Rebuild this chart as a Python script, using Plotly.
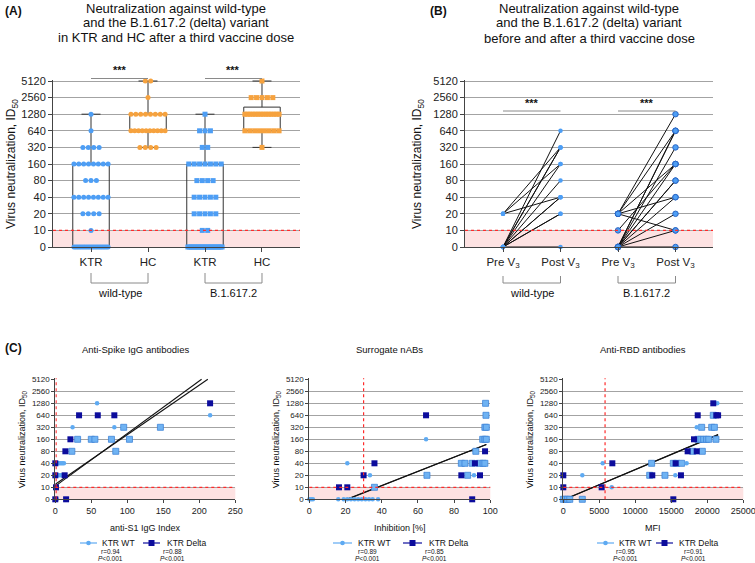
import math
import plotly.graph_objects as go

W, H = 755, 563
FONT = "Liberation Sans, Arial, Helvetica, sans-serif"

# ------------------------------------------------------------------ data
titer_levels = [0, 10, 20, 40, 80, 160, 320, 640, 1280, 2560, 5120]
titer_labels = ["0", "10", "20", "40", "80", "160", "320", "640", "1280", "2560", "5120"]

# Panel A: number of samples at each titer level (same order as titer_levels)
a_categories = ["KTR", "HC", "KTR", "HC"]
a_variants = ["wild-type", "B.1.617.2"]
a_wt_ktr_counts = [22, 1, 4, 8, 3, 8, 4, 1, 1, 0, 0]
a_wt_hc_counts = [0, 0, 0, 0, 0, 0, 4, 10, 8, 1, 2]
a_delta_ktr_counts = [22, 2, 5, 5, 4, 7, 2, 3, 1, 0, 0]
a_delta_hc_counts = [0, 0, 0, 0, 0, 0, 1, 8, 14, 5, 1]
a_box_q1 = [0, 640, 0, 640]
a_box_median = [0, 640, 0, 1280]
a_box_q3 = [160, 1280, 160, 1720]
a_box_min = [0, 320, 0, 320]
a_box_max = [1280, 5120, 1280, 5120]

# Panel B: paired titers before / after the third dose
b_categories = ["Pre V<sub>3</sub>", "Post V<sub>3</sub>", "Pre V<sub>3</sub>", "Post V<sub>3</sub>"]
b_variants = ["wild-type", "B.1.617.2"]
b_wt_pre = [20, 20, 20, 0, 0, 0, 0, 0, 0, 0, 0, 0, 0]
b_wt_post = [320, 160, 40, 640, 320, 320, 160, 80, 40, 40, 20, 20, 0]
b_delta_pre = [20, 20, 20, 20, 20, 10, 0, 0, 0, 0, 0, 0, 0, 0, 0, 0]
b_delta_post = [1280, 640, 160, 40, 10, 160, 640, 640, 320, 160, 80, 80, 40, 20, 10, 0]

# Panel C1: anti-S1 IgG index vs titer
c1_wt_x = [58, 215, 24, 82, 0, 2, 4, 6, 8, 10, 12, 0, 2, 4, 6, 8, 10, 0, 0, 2]
c1_wt_y = [1280, 640, 320, 320, 40, 40, 40, 40, 40, 40, 40, 20, 20, 20, 20, 20, 20, 10, 0, 0]
c1_both_x = [95, 146, 31, 50, 55, 78, 103, 23, 84]
c1_both_y = [320, 320, 160, 160, 160, 160, 160, 80, 80]
c1_delta_x = [215, 33, 59, 82, 21, 14, 13, 0, 0, 1, 15, 0]
c1_delta_y = [1280, 640, 640, 640, 160, 80, 20, 40, 20, 10, 0, 0]
c1_fit = {"wt": (1.1, 0.0438), "delta": (1.25, 0.0413)}
c1_cutoff = 1.1
c1_stats = ["r=0.94", "r=0.88"]

# Panel C2: surrogate neutralisation (inhibition %) vs titer
c2_wt_x = [21, 33.5, 64.5, 91, 0, 1, 2, 16, 19, 21, 23, 25, 27, 29, 31, 33, 35, 38]
c2_wt_y = [40, 20, 160, 20, 0, 0, 0, 0, 0, 0, 0, 0, 0, 0, 0, 0, 0, 0]
c2_both_x = [97.4, 97.6, 97, 97.8, 95.8, 97, 97.8, 92, 84, 86, 90, 94, 96, 97, 65, 87.5, 36]
c2_both_y = [1280, 640, 320, 320, 160, 160, 160, 80, 40, 40, 40, 40, 40, 40, 20, 20, 10]
c2_delta_x = [64.5, 97.1, 36, 91.5, 30, 84, 94.3, 16.4, 21, 90]
c2_delta_y = [640, 80, 40, 40, 20, 20, 20, 10, 10, 0]
c2_fit = {"wt": (-1.22, 0.0592), "delta": (-1.26, 0.0596)}
c2_cutoff = 30
c2_stats = ["r=0.89", "r=0.85"]

# Panel C3: anti-RBD MFI vs titer
c3_wt_x = [21390, 18530, 5470, 17130, 2640, 15560, 6720]
c3_wt_y = [1280, 320, 40, 40, 20, 20, 10]
c3_both_x = [20830, 19220, 20610, 20980, 18700, 19100, 19500, 19900, 20200, 21200, 17970, 19310,
             12270, 15280, 15740, 16430, 12000, 14120, 0, 300, 600, 900, 2640]
c3_both_y = [640, 320, 320, 320, 160, 160, 160, 160, 160, 160, 80, 80,
             40, 40, 40, 40, 20, 20, 0, 0, 0, 0, 0]
c3_delta_x = [20830, 18670, 21250, 21500, 18150, 17270, 18530, 6810, 15600, 0, 12360, 16340, 0, 5330, 15280]
c3_delta_y = [1280, 640, 640, 640, 160, 80, 80, 40, 40, 20, 20, 20, 10, 10, 0]
c3_fit = {"wt": (-0.06, 0.000254), "delta": (-0.05, 0.000252)}
c3_cutoff = 5800
c3_stats = ["r=0.95", "r=0.91"]

series_names = ["KTR WT", "KTR Delta"]

# ------------------------------------------------------------------ style
BLUE = "#4d9ef5"
ORANGE = "#f6a23e"
LIGHT = "#5eaaf2"
NAVY = "#0c0c9c"
GRID = "#a3a3a3"
AXC = "#444444"
PINK = "#fde2e2"


def lvl(v):
    return 0.0 if v == 0 else math.log2(v / 10.0) + 1.0


def X(px):
    return px / W


def Y(py):
    return 1 - py / H


fig = go.Figure()
shapes = []
annotations = []


def ann(text, x, y, size, xanchor="center", angle=0, color="#111", xref="paper"):
    annotations.append(dict(text=text, x=X(x) if xref == "paper" else x, y=Y(y), xref=xref, yref="paper",
                            xanchor=xanchor, yanchor="middle", showarrow=False, textangle=angle,
                            font=dict(size=size, color=color, family=FONT)))


def yaxis(top, bottom, size, anchor, ticklen=4):
    return dict(domain=[Y(bottom), Y(top)], range=[0, 10.08], tickvals=list(range(11)), ticktext=titer_labels,
                showgrid=True, gridcolor=GRID, gridwidth=1, zeroline=False, showline=True, linecolor=AXC,
                linewidth=1, ticks="outside", ticklen=ticklen, tickcolor=AXC, tickfont=dict(size=size, color="#222"),
                anchor=anchor, fixedrange=True, automargin=False)


def threshold_shapes(xa, ya):
    shapes.append(dict(type="rect", xref=xa + " domain", yref=ya, x0=0, x1=1, y0=0, y1=1,
                       fillcolor=PINK, line=dict(width=0), layer="below"))
    shapes.append(dict(type="line", xref=xa + " domain", yref=ya, x0=0, x1=1, y0=1, y1=1,
                       line=dict(color="#ff2a2a", width=1.2, dash="dot"), layer="above"))


# ------------------------------------------------------------------ panel A
A_TOP = 247 - 10.08 * 16.6


def swarm(counts, center, step=0.095, maxw=0.6):
    xs, ys = [], []
    for lv, n in zip(titer_levels, counts):
        if n == 0:
            continue
        s = step if n == 1 else min(step, maxw / (n - 1))
        for i in range(n):
            xs.append(center + (i - (n - 1) / 2) * s)
            ys.append(lvl(lv))
    return xs, ys


threshold_shapes("x", "y")
for i in range(4):
    fig.add_trace(go.Box(x=[i], q1=[lvl(a_box_q1[i])], median=[lvl(a_box_median[i])], q3=[lvl(a_box_q3[i])],
                         lowerfence=[lvl(a_box_min[i])], upperfence=[lvl(a_box_max[i])],
                         width=0.64, whiskerwidth=0.52, line=dict(color="#333", width=1),
                         fillcolor="rgba(0,0,0,0)", boxpoints=False, xaxis="x", yaxis="y", hoverinfo="skip"))

for counts, center, col, sym in [(a_wt_ktr_counts, 0, BLUE, "circle"), (a_wt_hc_counts, 1, ORANGE, "circle"),
                                 (a_delta_ktr_counts, 2, BLUE, "square"), (a_delta_hc_counts, 3, ORANGE, "square")]:
    xs, ys = swarm(counts, center)
    fig.add_trace(go.Scatter(x=xs, y=ys, mode="markers", xaxis="x", yaxis="y", cliponaxis=False,
                             marker=dict(color=col, size=5, symbol=sym, line=dict(width=0))))

# significance brackets A
for x0, x1 in [(0, 1), (2, 3)]:
    shapes.append(dict(type="line", xref="x", yref="paper", x0=x0, x1=x1, y0=Y(78.5), y1=Y(78.5),
                       line=dict(color="#8a8a8a", width=1)))
    ann("<b>***</b>", (x0 + x1) / 2, 70, 11, xref="x")
# group brackets A
for g, (x0, x1) in enumerate([(0, 1), (2, 3)]):
    for xx in (x0, x1):
        shapes.append(dict(type="line", xref="x", yref="paper", x0=xx, x1=xx, y0=Y(273), y1=Y(283),
                           line=dict(color="#8a8a8a", width=1)))
    shapes.append(dict(type="line", xref="x", yref="paper", x0=x0, x1=x1, y0=Y(283), y1=Y(283),
                       line=dict(color="#8a8a8a", width=1)))
    ann(a_variants[g], (x0 + x1) / 2, 293, 11, xref="x")

ann("<b>(A)</b>", 3, 11, 12, xanchor="left")
for t, yy in [("Neutralization against wild-type", 8), ("and the B.1.617.2 (delta) variant", 22.5),
              ("in KTR and HC after a third vaccine dose", 37)]:
    ann(t, 176, yy, 13)
ann("Virus neutralization, ID<sub>50</sub>", 12, 164, 12, angle=-90)

# ------------------------------------------------------------------ panel B
threshold_shapes("x2", "y2")
for pre, post, off, size, lw in [(b_wt_pre, b_wt_post, 0, 4.5, 0), (b_delta_pre, b_delta_post, 2, 5.5, 1)]:
    lx, ly = [], []
    for p, q in zip(pre, post):
        lx += [off, off + 1, None]
        ly += [lvl(p), lvl(q), None]
    fig.add_trace(go.Scatter(x=lx, y=ly, mode="lines", xaxis="x2", yaxis="y2", cliponaxis=False,
                             line=dict(color="#111", width=1)))
    mx = [off] * len(pre) + [off + 1] * len(post)
    my = [lvl(v) for v in pre] + [lvl(v) for v in post]
    fig.add_trace(go.Scatter(x=mx, y=my, mode="markers", xaxis="x2", yaxis="y2", cliponaxis=False,
                             marker=dict(color=BLUE, size=size, line=dict(color="#2a66c4", width=lw))))
for x0, x1 in [(0, 1), (2, 3)]:
    shapes.append(dict(type="line", xref="x2", yref="paper", x0=x0, x1=x1, y0=Y(111), y1=Y(111),
                       line=dict(color="#8a8a8a", width=1)))
    ann("<b>***</b>", (x0 + x1) / 2, 103, 11, xref="x2")
for g, (x0, x1) in enumerate([(0, 1), (2, 3)]):
    for xx in (x0, x1):
        shapes.append(dict(type="line", xref="x2", yref="paper", x0=xx, x1=xx, y0=Y(276), y1=Y(283),
                           line=dict(color="#8a8a8a", width=1)))
    shapes.append(dict(type="line", xref="x2", yref="paper", x0=x0, x1=x1, y0=Y(283), y1=Y(283),
                       line=dict(color="#8a8a8a", width=1)))
    ann(b_variants[g], (x0 + x1) / 2, 293, 11, xref="x2")
ann("<b>(B)</b>", 428, 11, 12, xanchor="left")
for t, yy in [("Neutralization against wild-type", 8), ("and the B.1.617.2 (delta) variant", 23),
              ("before and after a third vaccine dose", 38.5)]:
    ann(t, 589, yy, 13)
ann("Virus neutralization, ID<sub>50</sub>", 418, 164, 12, angle=-90)

# ------------------------------------------------------------------ panel C
C_panels = [
    dict(xa="x3", ya="y3", left=55.3, right=235.3, rng=[0, 250], dtick=50, title="Anti-Spike IgG antibodies",
         xtitle="anti-S1 IgG Index", wt=(c1_wt_x, c1_wt_y), both=(c1_both_x, c1_both_y),
         delta=(c1_delta_x, c1_delta_y), fit=c1_fit, cut=c1_cutoff, stats=c1_stats,
         leg=[(80, 97, 100, 110), (143, 160, 165, 172)]),
    dict(xa="x4", ya="y4", left=309.3, right=490.3, rng=[0, 100], dtick=20, title="Surrogate nABs",
         xtitle="Inhibition [%]", wt=(c2_wt_x, c2_wt_y), both=(c2_both_x, c2_both_y),
         delta=(c2_delta_x, c2_delta_y), fit=c2_fit, cut=c2_cutoff, stats=c2_stats,
         leg=[(333, 352, 356, 367), (403, 422, 427, 435)]),
    dict(xa="x5", ya="y5", left=563.3, right=743.3, rng=[0, 25000], dtick=5000, title="Anti-RBD antibodies",
         xtitle="MFI", wt=(c3_wt_x, c3_wt_y), both=(c3_both_x, c3_both_y),
         delta=(c3_delta_x, c3_delta_y), fit=c3_fit, cut=c3_cutoff, stats=c3_stats,
         leg=[(597, 614, 617, 625), (656, 673, 677, 693)]),
]

layout_axes = {}
for p in C_panels:
    xa, ya = p["xa"], p["ya"]
    threshold_shapes(xa, ya)
    shapes.append(dict(type="line", xref=xa, yref=ya + " domain", x0=p["cut"], x1=p["cut"], y0=0, y1=1,
                       line=dict(color="#ff2a2a", width=1.2, dash="dot"), layer="above"))
    # fitted regression lines
    for key in ["wt", "delta"]:
        b0, b1 = p["fit"][key]
        allx = p["wt"][0] + p["both"][0] + p["delta"][0]
        xs0 = max(min(allx), -b0 / b1)
        xs1 = min(max(allx), (10 - b0) / b1)
        fig.add_trace(go.Scatter(x=[xs0, xs1], y=[b0 + b1 * xs0, b0 + b1 * xs1], mode="lines",
                                 xaxis=xa, yaxis=ya, line=dict(color="#111", width=1.1)))
    fig.add_trace(go.Scatter(x=p["both"][0], y=[lvl(v) for v in p["both"][1]], mode="markers", xaxis=xa,
                             yaxis=ya, cliponaxis=False,
                             marker=dict(symbol="square", size=6, color="#6fb3f3",
                                         line=dict(color="#3f84d8", width=0.8))))
    fig.add_trace(go.Scatter(x=p["wt"][0], y=[lvl(v) for v in p["wt"][1]], mode="markers", xaxis=xa,
                             yaxis=ya, cliponaxis=False, marker=dict(symbol="circle", size=4.5, color=LIGHT)))
    fig.add_trace(go.Scatter(x=p["delta"][0], y=[lvl(v) for v in p["delta"][1]], mode="markers", xaxis=xa,
                             yaxis=ya, cliponaxis=False, marker=dict(symbol="square", size=6, color=NAVY)))
    layout_axes["xaxis" + xa[1:]] = dict(domain=[X(p["left"]), X(p["right"])], range=p["rng"], dtick=p["dtick"],
                                         tick0=0, tickformat="d", showgrid=False, zeroline=False, showline=True,
                                         linecolor=AXC, ticks="outside", ticklen=3, tickcolor=AXC, anchor=ya,
                                         fixedrange=True, automargin=False, ticklabeloverflow="allow",
                                         tickfont=dict(size=9, color="#222"))
    layout_axes["yaxis" + ya[1:]] = yaxis(499.3 - 10.08 * 12, 499.3, 8, xa, ticklen=3)
    cx = (p["left"] + p["right"]) / 2
    ann(p["title"], cx - 10, 349, 9.5)
    ann(p["xtitle"], cx, 528, 9)
    ann("Virus neutralization, ID<sub>50</sub>", p["left"] - 33, 439, 9, angle=-90)
    # legend
    for k, (l0, l1, tx, rx) in enumerate(p["leg"]):
        col = LIGHT if k == 0 else NAVY
        shapes.append(dict(type="line", xref="paper", yref="paper", x0=X(l0), x1=X(l1), y0=Y(543), y1=Y(543),
                           line=dict(color=col, width=1.2)))
        mc = (l0 + l1) / 2
        if k == 0:
            shapes.append(dict(type="circle", xref="paper", yref="paper", x0=X(mc - 2.3), x1=X(mc + 2.3),
                               y0=Y(545.3), y1=Y(540.7), fillcolor=col, line=dict(width=0)))
        else:
            shapes.append(dict(type="rect", xref="paper", yref="paper", x0=X(mc - 3), x1=X(mc + 3),
                               y0=Y(546), y1=Y(540), fillcolor=col, line=dict(width=0)))
        ann(series_names[k], tx, 543, 8.5, xanchor="left")
        ann(p["stats"][k], rx, 551, 6.5)
        ann("<i>P</i>&lt;0.001", rx, 558, 6.5)
ann("<b>(C)</b>", 3, 348, 12, xanchor="left")

fig.update_layout(
    width=W, height=H, margin=dict(l=0, r=0, t=0, b=0, autoexpand=False), paper_bgcolor="white",
    plot_bgcolor="white", showlegend=False, hovermode=False, font=dict(family=FONT, color="#222"),
    xaxis=dict(domain=[X(53), X(300)], range=[-0.667, 3.667], tickvals=[0, 1, 2, 3], ticktext=a_categories,
               showgrid=False, zeroline=False, showline=True, linecolor=AXC, ticks="outside", ticklen=4,
               tickcolor=AXC, tickfont=dict(size=11.5, color="#222"), anchor="y", fixedrange=True,
               automargin=False),
    yaxis=yaxis(A_TOP, 247, 11, "x"),
    xaxis2=dict(domain=[X(465), X(713)], range=[-0.661, 3.652], tickvals=[0, 1, 2, 3], ticktext=b_categories,
                showgrid=False, zeroline=False, showline=True, linecolor=AXC, ticks="outside", ticklen=4,
                tickcolor=AXC, tickfont=dict(size=11.5, color="#222"), anchor="y2", fixedrange=True,
                automargin=False),
    yaxis2=yaxis(A_TOP, 247, 11, "x2"),
    shapes=shapes, annotations=annotations,
    **layout_axes,
)
fig.write_html("out.html", config={"displayModeBar": False},
               post_script="document.body.style.margin='0px';document.body.style.overflow='hidden';")
